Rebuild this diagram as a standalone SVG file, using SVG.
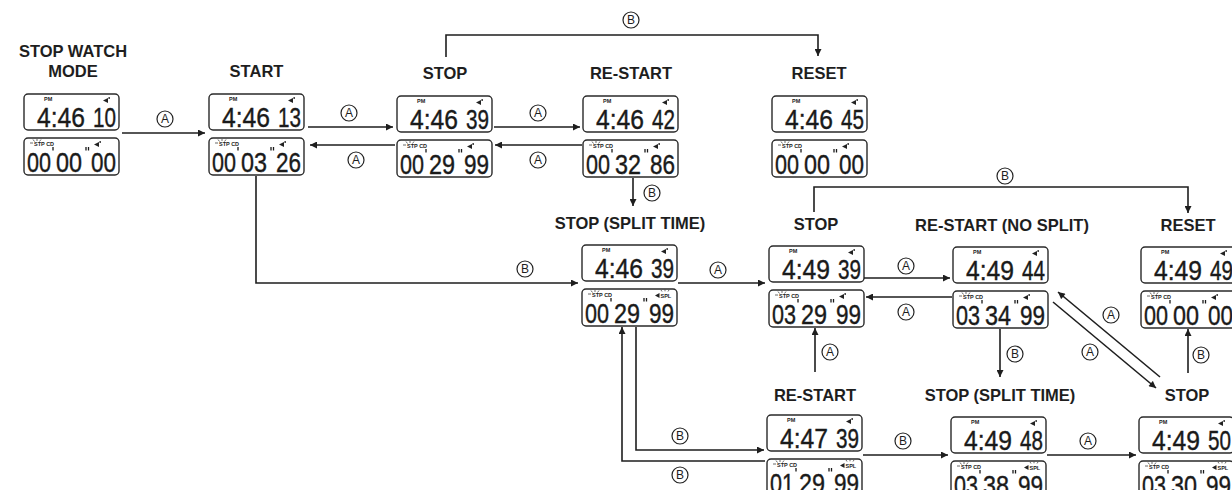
<svg xmlns="http://www.w3.org/2000/svg" xmlns:xlink="http://www.w3.org/1999/xlink" width="1232" height="490" viewBox="0 0 1232 490">
<style>
.lbl{font-family:"Liberation Sans",Arial,sans-serif;font-weight:bold;font-size:16.5px;fill:#1e1e1e;text-anchor:middle}
.lcd{fill:#fff;stroke:#2a2a2a;stroke-width:1.4}
.big{font-family:"Liberation Sans",Arial,sans-serif;font-size:28px;fill:#1a1a1a;stroke:#1a1a1a;stroke-width:0.4}
.sm{font-family:"Liberation Sans",Arial,sans-serif;font-weight:bold;font-size:5.5px;fill:#222}
.conn path{fill:none;stroke:#1e1e1e;stroke-width:1.6}
.key circle{fill:#fff;stroke:#222;stroke-width:1.2}
.key text{font-family:"Liberation Sans",Arial,sans-serif;font-size:12px;fill:#1e1e1e;text-anchor:middle}
.tk{stroke:#1a1a1a;stroke-width:1.3;fill:none}
</style>
<defs>
<marker id="ah" viewBox="0 0 10 10" refX="10" refY="5" markerWidth="8" markerHeight="7" orient="auto" markerUnits="userSpaceOnUse"><path d="M0,0 L10,5 L0,10 Z" fill="#1e1e1e"/></marker>
<g id="ind"><path d="M0,3.5 L5,1 L5,6 Z" fill="#222"/><rect x="5.5" y="0" width="1.3" height="2" fill="#222"/></g>
<g id="flash"><path d="M0,4h3 M3,0.5l1.5,2 M7,0v2 M11,0.5l-1.5,2" stroke="#444" stroke-width="0.8" fill="none"/></g>
<g id="ticks"><path class="tk" d="M29,9 v3.5 M62,9 v3.5 M64.5,9 v3.5"/></g>
<g id="spl"><path d="M0,3.5 L4.5,1 L4.5,6 Z" fill="#222"/><text class="sm" x="5.5" y="6">SPL</text><path d="M6,-2l1,1.5 M10,-2.5v1.8 M14,-2l-1,1.5" stroke="#444" stroke-width="0.8" fill="none"/></g>
</defs>
<rect width="1232" height="490" fill="#fff"/>

<g id="n-mode" transform="translate(24,94)">
<text class="lbl" x="49" y="-37">STOP WATCH</text>
<text class="lbl" x="49" y="-17">MODE</text>
<rect class="lcd" width="95" height="36" rx="4"/>
<text class="sm" x="20" y="7">PM</text><use href="#ind" x="79" y="3"/>
<text class="big" x="13" y="33" textLength="48" lengthAdjust="spacingAndGlyphs">4:46</text>
<text class="big" x="69" y="33" textLength="23" lengthAdjust="spacingAndGlyphs">10</text>
<rect class="lcd" y="44" width="95" height="37" rx="4"/>
<use href="#flash" x="6" y="45"/><text class="sm" x="10" y="52">STP CD</text><use href="#ind" x="70" y="47"/>
<use href="#ticks" y="44"/>
<text class="big" x="3" y="78" textLength="24" lengthAdjust="spacingAndGlyphs">00</text>
<text class="big" x="32" y="78" textLength="26" lengthAdjust="spacingAndGlyphs">00</text>
<text class="big" x="67" y="78" textLength="25" lengthAdjust="spacingAndGlyphs">00</text>
</g>

<g id="n-start" transform="translate(209,94)">
<text class="lbl" x="47.5" y="-17">START</text>
<rect class="lcd" width="95" height="36" rx="4"/>
<text class="sm" x="20" y="7">PM</text><use href="#ind" x="79" y="3"/>
<text class="big" x="13" y="33" textLength="48" lengthAdjust="spacingAndGlyphs">4:46</text>
<text class="big" x="69" y="33" textLength="23" lengthAdjust="spacingAndGlyphs">13</text>
<rect class="lcd" y="44" width="95" height="37" rx="4"/>
<use href="#flash" x="6" y="45"/><text class="sm" x="10" y="52">STP CD</text><use href="#ind" x="70" y="47"/>
<use href="#ticks" y="44"/>
<text class="big" x="3" y="78" textLength="24" lengthAdjust="spacingAndGlyphs">00</text>
<text class="big" x="32" y="78" textLength="26" lengthAdjust="spacingAndGlyphs">03</text>
<text class="big" x="67" y="78" textLength="25" lengthAdjust="spacingAndGlyphs">26</text>
</g>

<g id="n-stop" transform="translate(397,96)">
<text class="lbl" x="48" y="-17">STOP</text>
<rect class="lcd" width="95" height="36" rx="4"/>
<text class="sm" x="20" y="7">PM</text><use href="#ind" x="79" y="3"/>
<text class="big" x="13" y="33" textLength="48" lengthAdjust="spacingAndGlyphs">4:46</text>
<text class="big" x="69" y="33" textLength="23" lengthAdjust="spacingAndGlyphs">39</text>
<rect class="lcd" y="44" width="95" height="37" rx="4"/>
<use href="#flash" x="6" y="45"/><text class="sm" x="10" y="52">STP CD</text><use href="#ind" x="70" y="47"/>
<use href="#ticks" y="44"/>
<text class="big" x="3" y="78" textLength="24" lengthAdjust="spacingAndGlyphs">00</text>
<text class="big" x="32" y="78" textLength="26" lengthAdjust="spacingAndGlyphs">29</text>
<text class="big" x="67" y="78" textLength="25" lengthAdjust="spacingAndGlyphs">99</text>
</g>

<g id="n-restart" transform="translate(583,96)">
<text class="lbl" x="48" y="-17">RE-START</text>
<rect class="lcd" width="95" height="36" rx="4"/>
<text class="sm" x="20" y="7">PM</text><use href="#ind" x="79" y="3"/>
<text class="big" x="13" y="33" textLength="48" lengthAdjust="spacingAndGlyphs">4:46</text>
<text class="big" x="69" y="33" textLength="23" lengthAdjust="spacingAndGlyphs">42</text>
<rect class="lcd" y="44" width="95" height="37" rx="4"/>
<use href="#flash" x="6" y="45"/><text class="sm" x="10" y="52">STP CD</text><use href="#ind" x="70" y="47"/>
<use href="#ticks" y="44"/>
<text class="big" x="3" y="78" textLength="24" lengthAdjust="spacingAndGlyphs">00</text>
<text class="big" x="32" y="78" textLength="26" lengthAdjust="spacingAndGlyphs">32</text>
<text class="big" x="67" y="78" textLength="25" lengthAdjust="spacingAndGlyphs">86</text>
</g>

<g id="n-reset" transform="translate(772,96)">
<text class="lbl" x="47" y="-17">RESET</text>
<rect class="lcd" width="95" height="36" rx="4"/>
<text class="sm" x="20" y="7">PM</text><use href="#ind" x="79" y="3"/>
<text class="big" x="13" y="33" textLength="48" lengthAdjust="spacingAndGlyphs">4:46</text>
<text class="big" x="69" y="33" textLength="23" lengthAdjust="spacingAndGlyphs">45</text>
<rect class="lcd" y="44" width="95" height="37" rx="4"/>
<use href="#flash" x="6" y="45"/><text class="sm" x="10" y="52">STP CD</text><use href="#ind" x="70" y="47"/>
<use href="#ticks" y="44"/>
<text class="big" x="3" y="78" textLength="24" lengthAdjust="spacingAndGlyphs">00</text>
<text class="big" x="32" y="78" textLength="26" lengthAdjust="spacingAndGlyphs">00</text>
<text class="big" x="67" y="78" textLength="25" lengthAdjust="spacingAndGlyphs">00</text>
</g>

<g id="n-split1" transform="translate(582,245)">
<text class="lbl" x="48" y="-16">STOP (SPLIT TIME)</text>
<rect class="lcd" width="95" height="36" rx="4"/>
<text class="sm" x="20" y="7">PM</text><use href="#ind" x="79" y="3"/>
<text class="big" x="13" y="33" textLength="48" lengthAdjust="spacingAndGlyphs">4:46</text>
<text class="big" x="69" y="33" textLength="23" lengthAdjust="spacingAndGlyphs">39</text>
<rect class="lcd" y="44" width="95" height="37" rx="4"/>
<use href="#flash" x="6" y="45"/><text class="sm" x="10" y="52">STP CD</text><use href="#spl" x="73" y="47"/>
<use href="#ticks" y="44"/>
<text class="big" x="3" y="78" textLength="24" lengthAdjust="spacingAndGlyphs">00</text>
<text class="big" x="32" y="78" textLength="26" lengthAdjust="spacingAndGlyphs">29</text>
<text class="big" x="67" y="78" textLength="25" lengthAdjust="spacingAndGlyphs">99</text>
</g>

<g id="n-stop2" transform="translate(769,246)">
<text class="lbl" x="47" y="-16">STOP</text>
<rect class="lcd" width="95" height="36" rx="4"/>
<text class="sm" x="20" y="7">PM</text><use href="#ind" x="79" y="3"/>
<text class="big" x="13" y="33" textLength="48" lengthAdjust="spacingAndGlyphs">4:49</text>
<text class="big" x="69" y="33" textLength="23" lengthAdjust="spacingAndGlyphs">39</text>
<rect class="lcd" y="44" width="95" height="37" rx="4"/>
<use href="#flash" x="6" y="45"/><text class="sm" x="10" y="52">STP CD</text><use href="#ind" x="70" y="47"/>
<use href="#ticks" y="44"/>
<text class="big" x="3" y="78" textLength="24" lengthAdjust="spacingAndGlyphs">03</text>
<text class="big" x="32" y="78" textLength="26" lengthAdjust="spacingAndGlyphs">29</text>
<text class="big" x="67" y="78" textLength="25" lengthAdjust="spacingAndGlyphs">99</text>
</g>

<g id="n-restart-ns" transform="translate(953,247)">
<text class="lbl" x="49" y="-16">RE-START (NO SPLIT)</text>
<rect class="lcd" width="95" height="36" rx="4"/>
<text class="sm" x="20" y="7">PM</text><use href="#ind" x="79" y="3"/>
<text class="big" x="13" y="33" textLength="48" lengthAdjust="spacingAndGlyphs">4:49</text>
<text class="big" x="69" y="33" textLength="23" lengthAdjust="spacingAndGlyphs">44</text>
<rect class="lcd" y="44" width="95" height="37" rx="4"/>
<use href="#flash" x="6" y="45"/><text class="sm" x="10" y="52">STP CD</text><use href="#ind" x="70" y="47"/>
<use href="#ticks" y="44"/>
<text class="big" x="3" y="78" textLength="24" lengthAdjust="spacingAndGlyphs">03</text>
<text class="big" x="32" y="78" textLength="26" lengthAdjust="spacingAndGlyphs">34</text>
<text class="big" x="67" y="78" textLength="25" lengthAdjust="spacingAndGlyphs">99</text>
</g>

<g id="n-reset2" transform="translate(1141,247)">
<text class="lbl" x="47" y="-16">RESET</text>
<rect class="lcd" width="95" height="36" rx="4"/>
<text class="sm" x="20" y="7">PM</text><use href="#ind" x="79" y="3"/>
<text class="big" x="13" y="33" textLength="48" lengthAdjust="spacingAndGlyphs">4:49</text>
<text class="big" x="69" y="33" textLength="23" lengthAdjust="spacingAndGlyphs">49</text>
<rect class="lcd" y="44" width="95" height="37" rx="4"/>
<use href="#flash" x="6" y="45"/><text class="sm" x="10" y="52">STP CD</text><use href="#ind" x="70" y="47"/>
<use href="#ticks" y="44"/>
<text class="big" x="3" y="78" textLength="24" lengthAdjust="spacingAndGlyphs">00</text>
<text class="big" x="32" y="78" textLength="26" lengthAdjust="spacingAndGlyphs">00</text>
<text class="big" x="67" y="78" textLength="25" lengthAdjust="spacingAndGlyphs">00</text>
</g>

<g id="n-restart2" transform="translate(767,415)">
<text class="lbl" x="48" y="-14">RE-START</text>
<rect class="lcd" width="95" height="36" rx="4"/>
<text class="sm" x="20" y="7">PM</text><use href="#ind" x="79" y="3"/>
<text class="big" x="13" y="33" textLength="48" lengthAdjust="spacingAndGlyphs">4:47</text>
<text class="big" x="69" y="33" textLength="23" lengthAdjust="spacingAndGlyphs">39</text>
<rect class="lcd" y="44" width="95" height="37" rx="4"/>
<use href="#flash" x="6" y="45"/><text class="sm" x="10" y="52">STP CD</text><use href="#spl" x="73" y="47"/>
<use href="#ticks" y="44"/>
<text class="big" x="3" y="78" textLength="24" lengthAdjust="spacingAndGlyphs">01</text>
<text class="big" x="32" y="78" textLength="26" lengthAdjust="spacingAndGlyphs">29</text>
<text class="big" x="67" y="78" textLength="25" lengthAdjust="spacingAndGlyphs">99</text>
</g>

<g id="n-split2" transform="translate(951,417)">
<text class="lbl" x="49" y="-16">STOP (SPLIT TIME)</text>
<rect class="lcd" width="95" height="36" rx="4"/>
<text class="sm" x="20" y="7">PM</text><use href="#ind" x="79" y="3"/>
<text class="big" x="13" y="33" textLength="48" lengthAdjust="spacingAndGlyphs">4:49</text>
<text class="big" x="69" y="33" textLength="23" lengthAdjust="spacingAndGlyphs">48</text>
<rect class="lcd" y="44" width="95" height="37" rx="4"/>
<use href="#flash" x="6" y="45"/><text class="sm" x="10" y="52">STP CD</text><use href="#spl" x="73" y="47"/>
<use href="#ticks" y="44"/>
<text class="big" x="3" y="78" textLength="24" lengthAdjust="spacingAndGlyphs">03</text>
<text class="big" x="32" y="78" textLength="26" lengthAdjust="spacingAndGlyphs">38</text>
<text class="big" x="67" y="78" textLength="25" lengthAdjust="spacingAndGlyphs">99</text>
</g>

<g id="n-stop3" transform="translate(1139,417)">
<text class="lbl" x="48" y="-16">STOP</text>
<rect class="lcd" width="95" height="36" rx="4"/>
<text class="sm" x="20" y="7">PM</text><use href="#ind" x="79" y="3"/>
<text class="big" x="13" y="33" textLength="48" lengthAdjust="spacingAndGlyphs">4:49</text>
<text class="big" x="69" y="33" textLength="23" lengthAdjust="spacingAndGlyphs">50</text>
<rect class="lcd" y="44" width="95" height="37" rx="4"/>
<use href="#flash" x="6" y="45"/><text class="sm" x="10" y="52">STP CD</text><use href="#spl" x="73" y="47"/>
<use href="#ticks" y="44"/>
<text class="big" x="3" y="78" textLength="24" lengthAdjust="spacingAndGlyphs">03</text>
<text class="big" x="32" y="78" textLength="26" lengthAdjust="spacingAndGlyphs">30</text>
<text class="big" x="67" y="78" textLength="25" lengthAdjust="spacingAndGlyphs">99</text>
</g>

<g id="connectors" class="conn">
<g class="edge"><path d="M122,133 H205" marker-end="url(#ah)"/><g class="key"><circle cx="165" cy="119" r="8"/><text x="165" y="123.3">A</text></g></g>
<g class="edge"><path d="M308,127 H393" marker-end="url(#ah)"/><g class="key"><circle cx="349" cy="113" r="8"/><text x="349" y="117.3">A</text></g></g>
<g class="edge"><path d="M395,145 H310" marker-end="url(#ah)"/><g class="key"><circle cx="356" cy="160" r="8"/><text x="356" y="164.3">A</text></g></g>
<g class="edge"><path d="M494,127 H580" marker-end="url(#ah)"/><g class="key"><circle cx="538" cy="113" r="8"/><text x="538" y="117.3">A</text></g></g>
<g class="edge"><path d="M582,145 H495" marker-end="url(#ah)"/><g class="key"><circle cx="538" cy="160" r="8"/><text x="538" y="164.3">A</text></g></g>
<g class="edge"><path d="M446,57 V35 H818 V56" marker-end="url(#ah)"/><g class="key"><circle cx="631" cy="20" r="8"/><text x="631" y="24.3">B</text></g></g>
<g class="edge"><path d="M633,178 V206" marker-end="url(#ah)"/><g class="key"><circle cx="652" cy="193" r="8"/><text x="652" y="197.3">B</text></g></g>
<g class="edge"><path d="M256,176 V283 H578" marker-end="url(#ah)"/><g class="key"><circle cx="525" cy="269" r="8"/><text x="525" y="273.3">B</text></g></g>
<g class="edge"><path d="M678,283 H765" marker-end="url(#ah)"/><g class="key"><circle cx="718" cy="270" r="8"/><text x="718" y="274.3">A</text></g></g>
<g class="edge"><path d="M814,212 V187 H1188 V213" marker-end="url(#ah)"/><g class="key"><circle cx="1005" cy="176" r="8"/><text x="1005" y="180.3">B</text></g></g>
<g class="edge"><path d="M864,278 H950" marker-end="url(#ah)"/><g class="key"><circle cx="906" cy="266" r="8"/><text x="906" y="270.3">A</text></g></g>
<g class="edge"><path d="M952,297 H866" marker-end="url(#ah)"/><g class="key"><circle cx="906" cy="312" r="8"/><text x="906" y="316.3">A</text></g></g>
<g class="edge"><path d="M1160,377 L1058,292" marker-end="url(#ah)"/><g class="key"><circle cx="1111" cy="315" r="8"/><text x="1111" y="319.3">A</text></g></g>
<g class="edge"><path d="M1053,302 L1156,388" marker-end="url(#ah)"/><g class="key"><circle cx="1090" cy="352" r="8"/><text x="1090" y="356.3">A</text></g></g>
<g class="edge"><path d="M1188,373 V329" marker-end="url(#ah)"/><g class="key"><circle cx="1201" cy="355" r="8"/><text x="1201" y="359.3">B</text></g></g>
<g class="edge"><path d="M815,372 V328" marker-end="url(#ah)"/><g class="key"><circle cx="830" cy="352" r="8"/><text x="830" y="356.3">A</text></g></g>
<g class="edge"><path d="M1000,329 V377" marker-end="url(#ah)"/><g class="key"><circle cx="1015" cy="354" r="8"/><text x="1015" y="358.3">B</text></g></g>
<g class="edge"><path d="M636,327 V450 H764" marker-end="url(#ah)"/><g class="key"><circle cx="680" cy="436" r="8"/><text x="680" y="440.3">B</text></g></g>
<g class="edge"><path d="M765,461 H622 V327" marker-end="url(#ah)"/><g class="key"><circle cx="680" cy="475" r="8"/><text x="680" y="479.3">B</text></g></g>
<g class="edge"><path d="M863,455 H948" marker-end="url(#ah)"/><g class="key"><circle cx="903" cy="441" r="8"/><text x="903" y="445.3">B</text></g></g>
<g class="edge"><path d="M1047,455 H1136" marker-end="url(#ah)"/><g class="key"><circle cx="1088" cy="441" r="8"/><text x="1088" y="445.3">A</text></g></g>
</g>
</svg>
